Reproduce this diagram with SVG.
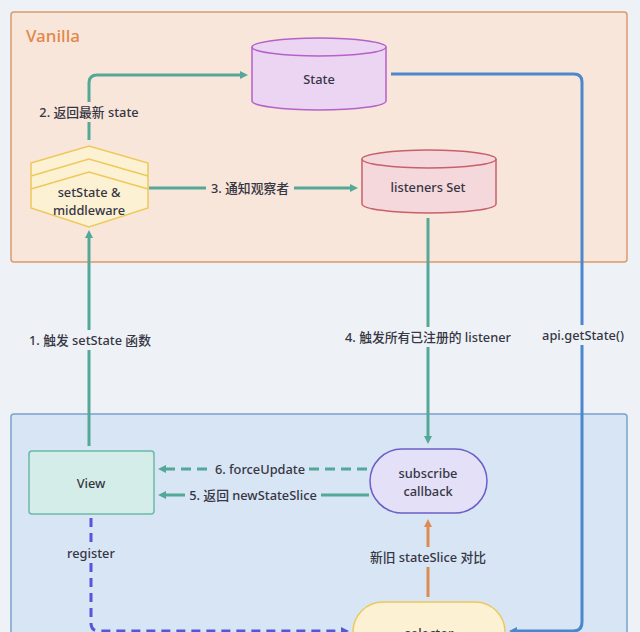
<svg xmlns="http://www.w3.org/2000/svg" width="640" height="632" viewBox="0 0 640 632">
<defs>
<style>
text{font-family:"Noto Sans","Noto Sans CJK SC",sans-serif;fill:#363644;font-size:12.8px;font-weight:500;text-anchor:middle;dominant-baseline:central}
.teal{stroke:#53a898;stroke-width:3;fill:none}
.blue{stroke:#4a87cc;stroke-width:3;fill:none}
.orange{stroke:#df8a4f;stroke-width:3;fill:none}
.purple{stroke:#5a55d8;stroke-width:3;fill:none;stroke-dasharray:9 6}
.bgl{fill:#f9e6da}
.bgb{fill:#d7e5f4}
</style>
<marker id="at" markerWidth="8" markerHeight="8" refX="4" refY="4" orient="auto" markerUnits="userSpaceOnUse" viewBox="0 0 8 8"><path d="M0,0 L8,4 L0,8 Z" fill="#53a898"/></marker>
<marker id="ab" markerWidth="8" markerHeight="8" refX="4" refY="4" orient="auto" markerUnits="userSpaceOnUse" viewBox="0 0 8 8"><path d="M0,0 L8,4 L0,8 Z" fill="#4a87cc"/></marker>
<marker id="ao" markerWidth="8" markerHeight="8" refX="4" refY="4" orient="auto" markerUnits="userSpaceOnUse" viewBox="0 0 8 8"><path d="M0,0 L8,4 L0,8 Z" fill="#df8a4f"/></marker>
<marker id="ap" markerWidth="8" markerHeight="8" refX="4" refY="4" orient="auto" markerUnits="userSpaceOnUse" viewBox="0 0 8 8"><path d="M0,0 L8,4 L0,8 Z" fill="#5a55d8"/></marker>
</defs>
<rect width="640" height="632" fill="#eef2f6"/>
<g id="vanilla">
<rect x="11" y="12" width="616" height="250" rx="3" fill="#f9e6da" stroke="#d99a6c" stroke-width="1.5"/>
<text x="26" y="35" style="font-size:17px;fill:#e0884a;text-anchor:start">Vanilla</text>
</g>
<g id="react-box">
<rect x="11" y="414" width="616" height="240" rx="3" fill="#d7e5f4" stroke="#7aa3cc" stroke-width="1.5"/>
</g>
<g id="connectors">
<path class="teal" d="M89,140 V83 Q89,75 97,75 H244" marker-end="url(#at)"/>
<path class="teal" d="M149,188 H354" marker-end="url(#at)"/>
<path class="teal" d="M89,446 V234" marker-end="url(#at)"/>
<path class="teal" d="M428,218 V440" marker-end="url(#at)"/>
<path class="blue" d="M391,74 H574 Q582,74 582,82 V622 Q582,631 573,631 H513" marker-end="url(#ab)"/>
<path class="teal" d="M367,469 H162" stroke-dasharray="10 6" marker-end="url(#at)"/>
<path class="teal" d="M369,495 H162" marker-end="url(#at)"/>
<path class="orange" d="M428,597 V523" marker-end="url(#ao)"/>
<path class="purple" d="M91,518 V623 Q91,631 99,631 H345" marker-end="url(#ap)"/>
<rect x="32" y="102" width="114" height="20" class="bgl"/>
<text x="89" y="112">2. 返回最新 state</text>
<rect x="206" y="178" width="88" height="20" class="bgl"/>
<text x="250" y="188">3. 通知观察者</text>
<rect x="24" y="330" width="132" height="20" fill="#eef2f6"/>
<text x="90" y="340">1. 触发 setState 函数</text>
<rect x="340" y="327" width="176" height="20" fill="#eef2f6"/>
<text x="428" y="337">4. 触发所有已注册的 listener</text>
<rect x="540" y="325" width="86" height="20" fill="#eef2f6"/>
<text x="583" y="335">api.getState()</text>
<rect x="212" y="459" width="96" height="20" class="bgb"/>
<text x="260" y="469">6. forceUpdate</text>
<rect x="185" y="485" width="136" height="20" class="bgb"/>
<text x="253" y="495">5. 返回 newStateSlice</text>
<rect x="364" y="547" width="128" height="20" class="bgb"/>
<text x="428" y="557">新旧 stateSlice 对比</text>
<rect x="64" y="543" width="56" height="20" class="bgb"/>
<text x="91" y="553">register</text>
</g>
<g id="state">
<path d="M252,47 V101 A67,9 0 0 0 386,101 V47" fill="#ecd5f2" stroke="#b462c8" stroke-width="1.5"/>
<ellipse cx="319" cy="47" rx="67" ry="9" fill="#ecd5f2" stroke="#b462c8" stroke-width="1.5"/>
<text x="319" y="79">State</text>
</g>
<g id="listeners">
<path d="M362,159 V204 A67,9 0 0 0 496,204 V159" fill="#f4d8dc" stroke="#c8606a" stroke-width="1.5"/>
<ellipse cx="429" cy="159" rx="67" ry="9" fill="#f4d8dc" stroke="#c8606a" stroke-width="1.5"/>
<text x="428" y="187">listeners Set</text>
</g>
<g id="setstate">
<path d="M31,163 L89,146 L148,163 V208 L89,227 L31,208 Z" fill="#fdf1d4" stroke="#ecc95a" stroke-width="1.5"/>
<path d="M31,176 L89,159 L148,176 M31,189 L89,172 L148,189" fill="none" stroke="#ecc95a" stroke-width="1.5"/>
<text x="89" y="192">setState &amp;</text>
<text x="89" y="210">middleware</text>
</g>
<g id="view">
<rect x="29" y="451" width="125" height="63" rx="3" fill="#d5ede8" stroke="#6cb8a6" stroke-width="1.5"/>
<text x="91" y="483">View</text>
</g>
<g id="subscribe">
<rect x="370" y="449" width="117" height="64" rx="32" fill="#e3e0f7" stroke="#6b5fc8" stroke-width="1.5"/>
<text x="428" y="473">subscribe</text>
<text x="428" y="491">callback</text>
</g>
<g id="selector">
<rect x="353" y="602" width="152" height="64" rx="30" fill="#fdf1d4" stroke="#ecc95a" stroke-width="1.5"/>
<text x="429" y="633">selector</text>
</g>
</svg>
